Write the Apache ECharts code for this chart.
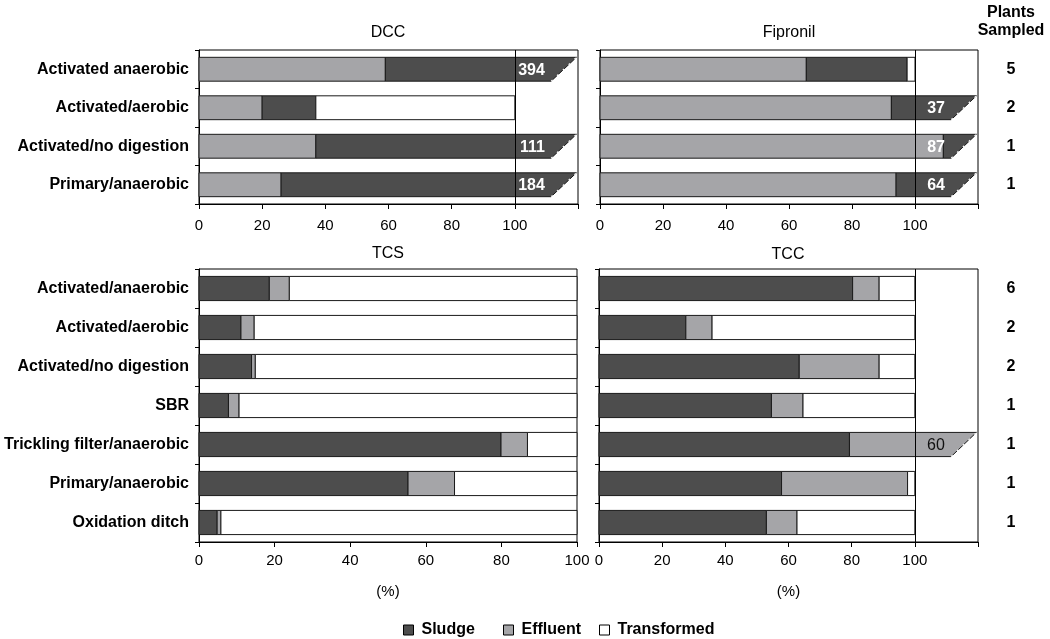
<!DOCTYPE html>
<html><head><meta charset="utf-8">
<script src="https://cdn.jsdelivr.net/npm/echarts/dist/echarts.min.js"></script>
<style>html,body{margin:0;padding:0;background:#fff}#c{width:1050px;height:639px}</style>
</head><body><div id="c"></div>
<script>
const topCategories = ['Activated anaerobic', 'Activated/aerobic', 'Activated/no digestion', 'Primary/anaerobic'];
const bottomCategories = ['Activated/anaerobic', 'Activated/aerobic', 'Activated/no digestion', 'SBR', 'Trickling filter/anaerobic', 'Primary/anaerobic', 'Oxidation ditch'];
const dccEffluent = [59, 20, 37, 26];
const dccSludge = [394, 17, 111, 184];
const dccTransformed = [0, 63, 0, 0];
const fipEffluent = [65.5, 92.5, 109, 94];
const fipSludge = [32, 37, 87, 64];
const fipTransformed = [2.5, 0, 0, 0];
const tcsSludge = [18.6, 11.1, 13.9, 7.8, 79.9, 55.3, 4.8];
const tcsEffluent = [5.3, 3.5, 1.0, 2.8, 7.0, 12.3, 1.0];
const tcsTransformed = [76.1, 85.4, 85.1, 89.4, 13.1, 32.4, 94.2];
const tccSludge = [80.3, 27.5, 63.4, 54.6, 79.3, 57.8, 53.0];
const tccEffluent = [8.4, 8.3, 25.3, 10.0, 60, 39.9, 9.7];
const tccTransformed = [11.3, 64.2, 11.3, 35.4, 0, 2.3, 37.3];
const topPlants = ['5', '2', '1', '1'];
const bottomPlants = ['6', '2', '2', '1', '1', '1', '1'];
const panelTitles = ['DCC', 'Fipronil', 'TCS', 'TCC'];
const legendNames = ['Sludge', 'Effluent', 'Transformed'];

const FONT = "'Liberation Sans', Arial, sans-serif";
const COLORS = { Sludge: '#4d4d4d', Effluent: '#a5a5a8', Transformed: '#ffffff' };
const STROKE = '#1a1a1a';
const BREAK_BOTTOM = 111.5, BREAK_TOP = 119.5, LABEL_RIGHT = 109.5;

function stackSegments(order) {
  const out = {};
  order.forEach(([name]) => out[name] = []);
  const n = order[0][1].length;
  for (let i = 0; i < n; i++) {
    let acc = 0;
    order.forEach(([name, vals]) => {
      const v = vals[i];
      out[name].push([i, acc, acc + v, v]);
      acc += v;
    });
  }
  return out;
}

function makeRender(name) {
  return function (params, api) {
    const cat = api.value(0), s = api.value(1), e = api.value(2), v = api.value(3);
    if (!(e > s)) return;
    const h = api.size([0, 1])[1] * 0.62;
    const c0 = api.coord([s, cat]);
    const yTop = c0[1] - h / 2, yBot = c0[1] + h / 2;
    const x0 = c0[0];
    const fill = COLORS[name];
    if (e > BREAK_BOTTOM) {
      const xt = api.coord([BREAK_TOP, cat])[0];
      const xb = api.coord([BREAK_BOTTOM, cat])[0];
      const xl = api.coord([LABEL_RIGHT, cat])[0];
      return {
        type: 'group', children: [
          { type: 'polygon', shape: { points: [[x0, yTop], [xt, yTop], [xb, yBot], [x0, yBot]] }, style: { fill: fill, stroke: STROKE, lineWidth: 1 } },
          { type: 'line', shape: { x1: xb, y1: yBot, x2: xt, y2: yTop }, style: { stroke: '#fff', lineWidth: 1.2, lineDash: [2, 6] } },
          { type: 'text', style: { text: String(v), x: xl, y: c0[1] + 1, align: 'right', verticalAlign: 'middle', fill: name === 'Sludge' ? '#fff' : '#111', font: (name === 'Sludge' ? 'bold ' : '') + '16px ' + FONT } }
        ]
      };
    }
    const x1 = api.coord([e, cat])[0];
    return { type: 'rect', shape: { x: x0, y: yTop, width: x1 - x0, height: h }, style: { fill: fill, stroke: STROKE, lineWidth: 1 } };
  };
}

const panels = [
  { order: [['Effluent', dccEffluent], ['Sludge', dccSludge], ['Transformed', dccTransformed]], max: 120 },
  { order: [['Effluent', fipEffluent], ['Sludge', fipSludge], ['Transformed', fipTransformed]], max: 120 },
  { order: [['Sludge', tcsSludge], ['Effluent', tcsEffluent], ['Transformed', tcsTransformed]], max: 100 },
  { order: [['Sludge', tccSludge], ['Effluent', tccEffluent], ['Transformed', tccTransformed]], max: 120 }
];

const grids = [
  { left: 199, top: 50, width: 379, height: 154 },
  { left: 600, top: 50, width: 378, height: 154 },
  { left: 199, top: 269, width: 378, height: 273 },
  { left: 599, top: 269, width: 379, height: 273 }
].map(g => Object.assign(g, { show: true, borderColor: '#000', borderWidth: 1, backgroundColor: 'transparent' }));

const xAxes = panels.map((p, i) => ({
  type: 'value', gridIndex: i, min: 0, max: p.max, interval: 20,
  axisLine: { show: true, lineStyle: { color: '#000', width: 1 } },
  axisTick: { show: true, length: 5, lineStyle: { color: '#000' } },
  splitLine: { show: false },
  axisLabel: { color: '#000', fontSize: 15, fontFamily: FONT, margin: i < 2 ? 14 : 11, formatter: v => v > 100 ? '' : String(v) },
  name: i >= 2 ? '(%)' : '', nameLocation: 'middle', nameGap: 42,
  nameTextStyle: { color: '#000', fontSize: 15, fontFamily: FONT }
}));

const yAxes = panels.map((p, i) => ({
  type: 'category', gridIndex: i, inverse: true,
  data: i < 2 ? topCategories : bottomCategories,
  axisLine: { show: true, lineStyle: { color: '#000', width: 1 } },
  axisTick: { show: true, length: 4, lineStyle: { color: '#000' } },
  axisLabel: { show: i === 0 || i === 2, color: '#000', fontSize: 16, fontWeight: 'bold', fontFamily: FONT, margin: 10, padding: [3, 0, 0, 0] }
}));
yAxes.push({
  type: 'category', gridIndex: 1, inverse: true, position: 'right', data: topPlants,
  axisLine: { show: false }, axisTick: { show: false },
  axisLabel: { color: '#000', fontSize: 16, fontWeight: 'bold', fontFamily: FONT, margin: 33, align: 'center', padding: [3, 0, 0, 0] }
});
yAxes.push({
  type: 'category', gridIndex: 3, inverse: true, position: 'right', data: bottomPlants,
  axisLine: { show: false }, axisTick: { show: false },
  axisLabel: { color: '#000', fontSize: 16, fontWeight: 'bold', fontFamily: FONT, margin: 33, align: 'center', padding: [3, 0, 0, 0] }
});

const series = [];
panels.forEach((p, i) => {
  if (p.max > 100) {
    series.push({
      type: 'line', xAxisIndex: i, yAxisIndex: i, data: [], z: 1, silent: true,
      markLine: { silent: true, symbol: 'none', label: { show: false }, lineStyle: { color: '#000', width: 1, type: 'solid' }, data: [{ xAxis: 100 }] }
    });
  }
  const segs = stackSegments(p.order);
  p.order.forEach(([name]) => {
    series.push({
      type: 'custom', name: name, xAxisIndex: i, yAxisIndex: i, z: 3,
      itemStyle: { color: COLORS[name], borderColor: STROKE },
      encode: { x: [1, 2], y: 0 },
      renderItem: makeRender(name),
      data: segs[name]
    });
  });
});

const titlePos = [[388, 33], [789, 33], [388, 254], [788, 255]];
const graphic = panelTitles.map((t, i) => ({
  type: 'text', x: titlePos[i][0], y: titlePos[i][1],
  style: { text: t, align: 'center', verticalAlign: 'middle', fill: '#000', font: '16px ' + FONT }
}));
graphic.push({ type: 'text', x: 1011, y: 13, style: { text: 'Plants', align: 'center', verticalAlign: 'middle', fill: '#000', font: 'bold 16px ' + FONT } });
graphic.push({ type: 'text', x: 1011, y: 31, style: { text: 'Sampled', align: 'center', verticalAlign: 'middle', fill: '#000', font: 'bold 16px ' + FONT } });

const legendLefts = [398, 498, 594];
const legends = legendNames.map((n, i) => ({
  left: legendLefts[i], top: 617, itemWidth: 10, itemHeight: 10,
  icon: 'rect',
  data: [{ name: n, itemStyle: { color: COLORS[n], borderColor: '#000', borderWidth: 1 } }],
  textStyle: { color: '#000', fontSize: 16, fontWeight: 'bold', fontFamily: FONT, padding: [0, 0, 0, 3] }
}));

const chart = echarts.init(document.getElementById('c'), null, { renderer: 'canvas' });
chart.setOption({
  animation: false,
  backgroundColor: '#fff',
  grid: grids,
  xAxis: xAxes,
  yAxis: yAxes,
  series: series,
  graphic: graphic,
  legend: legends
});
</script>
</body></html>
